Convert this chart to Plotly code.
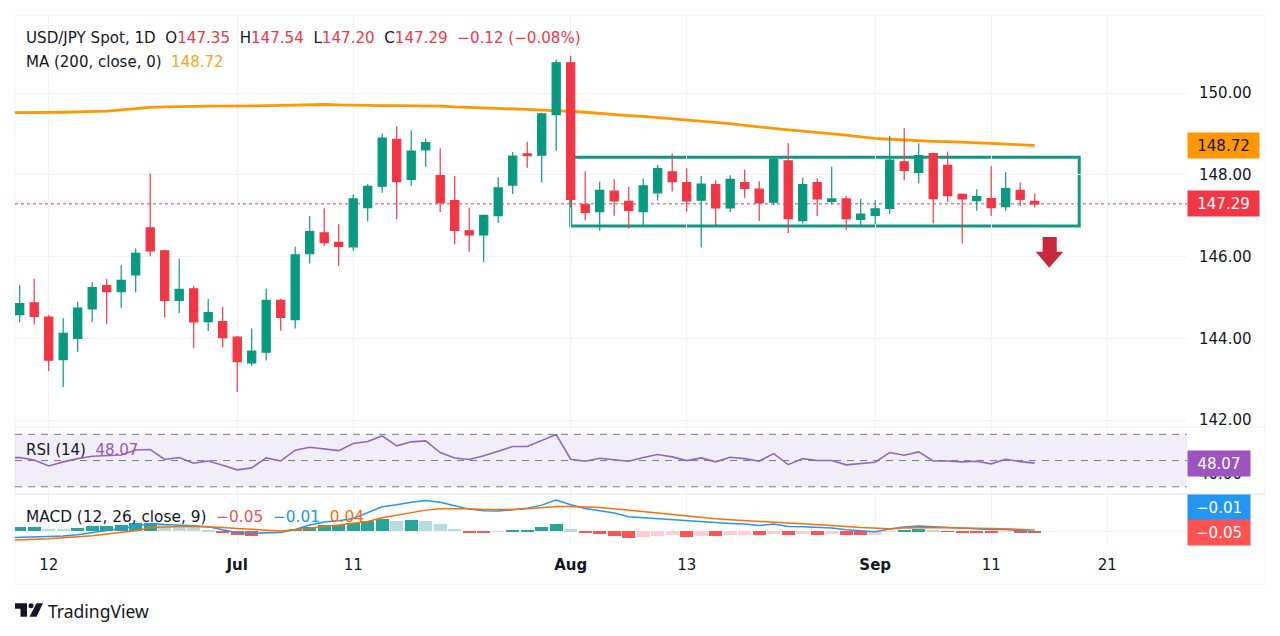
import plotly.graph_objects as go

W, H = 1280, 636
FONT = "DejaVu Sans"
YS = 1.0035

opens = [144.58,144.87,144.52,143.48,144.00,144.72,145.29,145.14,145.55,146.70,146.14,144.93,145.21,144.41,144.41,144.03,143.40,143.66,144.93,144.46,146.07,146.58,146.35,146.24,147.20,147.72,148.87,147.89,148.61,147.98,147.37,146.63,146.53,147.00,147.75,148.51,148.48,149.47,150.74,147.28,147.10,147.60,147.35,147.10,147.56,148.07,147.81,147.38,147.76,147.19,147.81,147.65,147.33,148.34,146.88,147.81,147.35,147.41,146.91,147.01,147.18,148.32,148.06,148.52,148.23,147.52,147.37,147.42,147.22,147.62,147.35]
highs = [145.30,145.46,144.57,144.49,144.89,145.37,145.45,145.79,146.20,148.03,146.17,145.95,145.28,144.96,144.77,144.06,144.24,145.22,144.97,146.24,146.99,147.18,146.79,147.52,147.77,149.01,149.19,149.09,148.88,148.65,147.97,147.20,147.03,147.94,148.56,148.81,149.52,150.82,150.91,148.09,147.83,147.89,147.71,147.91,148.24,148.52,148.16,147.97,147.87,147.99,148.13,147.84,148.44,148.77,147.93,147.91,148.20,147.49,147.41,147.38,148.95,149.14,148.77,148.54,148.57,147.54,147.65,148.21,148.07,147.81,147.54]
lows = [144.40,144.34,143.20,142.81,143.67,144.40,144.35,144.75,145.13,146.01,144.51,144.62,143.76,144.18,143.79,142.69,143.33,143.46,144.19,144.24,145.83,146.26,145.77,146.14,146.86,147.56,146.92,147.73,148.20,147.09,146.30,146.12,145.87,146.83,147.53,148.17,147.81,148.59,147.20,146.88,146.63,147.00,146.69,146.77,147.37,147.59,147.10,146.22,146.77,147.09,147.44,146.87,147.26,146.58,146.81,146.99,147.28,146.65,146.77,146.79,147.04,147.87,147.79,146.81,147.34,146.32,147.12,146.99,147.12,147.24,147.20]
closes = [144.85,144.54,143.47,144.12,144.74,145.24,145.14,145.42,146.08,146.14,144.93,145.20,144.40,144.63,144.02,143.43,143.69,144.93,144.51,146.04,146.61,146.34,146.25,147.41,147.72,148.90,147.83,148.58,148.79,147.32,146.64,146.53,147.01,147.68,148.46,148.47,149.49,150.74,147.40,147.08,147.62,147.36,147.13,147.73,148.15,147.83,147.36,147.77,147.19,147.89,147.67,147.32,148.38,146.93,147.76,147.41,147.41,146.93,147.04,147.17,148.36,148.11,148.47,147.42,147.49,147.41,147.47,147.20,147.66,147.40,147.29]

# first entry of the three lines below belongs to the bar before the window
ma200 = [149.52,149.52,149.52,149.52,149.53,149.54,149.55,149.56,149.59,149.62,149.65,149.66,149.67,149.68,149.68,149.68,149.68,149.68,149.69,149.70,149.71,149.72,149.72,149.71,149.70,149.70,149.69,149.69,149.69,149.68,149.68,149.66,149.65,149.64,149.63,149.61,149.60,149.58,149.57,149.55,149.53,149.50,149.47,149.45,149.43,149.40,149.38,149.35,149.32,149.28,149.25,149.21,149.17,149.13,149.10,149.07,149.04,149.00,148.97,148.93,148.89,148.87,148.85,148.83,148.82,148.81,148.80,148.78,148.77,148.75,148.74,148.72]
rsi14 = [52.0,52.3,50.5,45.9,49.0,51.5,53.3,53.8,54.3,58.1,58.4,50.8,52.3,48.0,49.7,46.4,42.9,44.4,52.0,49.7,57.9,60.2,58.7,57.6,63.0,64.5,68.8,61.2,64.3,65.0,56.1,52.0,50.8,53.6,57.1,60.7,60.7,65.0,69.9,51.0,49.5,51.8,50.5,49.5,52.3,54.6,52.8,50.0,52.0,49.0,52.5,51.5,49.5,55.3,46.9,51.5,50.0,50.0,46.7,47.5,48.7,56.1,54.1,56.6,49.7,49.7,49.0,49.5,47.5,51.0,49.2,48.07]
macd_line = [-0.19,-0.18,-0.18,-0.17,-0.14,-0.10,-0.03,0.03,0.08,0.17,0.24,0.21,0.20,0.17,0.14,0.06,-0.04,-0.06,-0.05,-0.03,0.06,0.19,0.28,0.32,0.39,0.56,0.74,0.80,0.88,0.93,0.88,0.77,0.67,0.62,0.61,0.65,0.70,0.79,0.94,0.80,0.69,0.62,0.55,0.44,0.41,0.39,0.35,0.31,0.29,0.25,0.24,0.22,0.18,0.22,0.15,0.14,0.12,0.10,0.05,0.01,-0.01,0.07,0.13,0.16,0.14,0.11,0.09,0.07,0.06,0.06,0.02,-0.01]
signal_line = [-0.27,-0.26,-0.24,-0.22,-0.19,-0.17,-0.13,-0.08,-0.04,0.02,0.12,0.14,0.15,0.15,0.14,0.12,0.09,0.06,0.04,0.01,0.05,0.11,0.15,0.19,0.25,0.30,0.41,0.49,0.58,0.64,0.68,0.69,0.68,0.66,0.65,0.66,0.68,0.72,0.75,0.75,0.74,0.72,0.68,0.63,0.59,0.55,0.51,0.46,0.42,0.38,0.35,0.32,0.30,0.28,0.25,0.23,0.21,0.19,0.15,0.12,0.09,0.08,0.10,0.12,0.12,0.11,0.11,0.10,0.09,0.08,0.07,0.04]
macd_hist = [0.13,0.14,0.08,0.07,0.10,0.15,0.16,0.20,0.25,0.26,0.18,0.15,0.12,0.05,-0.06,-0.12,-0.14,-0.04,-0.02,0.08,0.13,0.18,0.20,0.25,0.30,0.36,0.32,0.33,0.32,0.22,0.07,-0.04,-0.06,-0.02,0.03,0.05,0.12,0.21,0.06,-0.05,-0.09,-0.15,-0.19,-0.17,-0.13,-0.12,-0.16,-0.13,-0.15,-0.12,-0.11,-0.12,-0.09,-0.11,-0.09,-0.10,-0.07,-0.10,-0.12,-0.10,-0.02,0.04,0.06,0.02,-0.01,-0.03,-0.04,-0.06,-0.02,-0.04,-0.05]

tick_positions = [2, 15, 23, 38, 46, 59, 67, 75]
tick_labels = ["12", "<b>Jul</b>", "11", "<b>Aug</b>", "13", "<b>Sep</b>", "11", "21"]
price_ticks = [142, 144, 146, 148, 150]
box_high, box_low = 148.43, 146.75
box_start, box_end = 38, 73.07

UP, DOWN = "#089981", "#f23645"
ORANGE, PURPLE = "#ff9800", "#9c55c0"
BLUE, SIGNAL = "#2196f3", "#ff6d00"
GRID = "#f2f3f5"
TEXT = "#131722"

bars = list(range(len(closes)))
lead = [-1] + bars


def px(x):
    return x / W


def py(y):
    return 1 - y * YS / H


hist_colors = []
for i, h in enumerate(macd_hist):
    rising = i == 0 or h >= macd_hist[i - 1]
    if h >= 0:
        hist_colors.append("#26a69a" if rising else "#b2dfdb")
    else:
        hist_colors.append("#ffcdd2" if rising else "#ff5252")

fig = go.Figure()
fig.add_trace(go.Scatter(x=lead, y=ma200, mode="lines", xaxis="x", yaxis="y",
                         line=dict(color=ORANGE, width=2.8), hoverinfo="skip"))
fig.add_trace(go.Candlestick(x=bars, open=opens, high=highs, low=lows, close=closes,
                             xaxis="x", yaxis="y4", whiskerwidth=0,
                             increasing=dict(line=dict(color=UP, width=1.2), fillcolor=UP),
                             decreasing=dict(line=dict(color=DOWN, width=1.2), fillcolor=DOWN)))
fig.add_trace(go.Scatter(x=lead, y=rsi14, mode="lines", xaxis="x2", yaxis="y2",
                         line=dict(color="#9467bd", width=1.6), hoverinfo="skip"))
fig.add_trace(go.Bar(x=bars, y=macd_hist, xaxis="x3", yaxis="y3", marker=dict(color=hist_colors, line_width=0),
                     width=0.92, hoverinfo="skip"))
fig.add_trace(go.Scatter(x=lead, y=macd_line, mode="lines", xaxis="x3", yaxis="y3",
                         line=dict(color=BLUE, width=1.5), hoverinfo="skip"))
fig.add_trace(go.Scatter(x=lead, y=signal_line, mode="lines", xaxis="x3", yaxis="y3",
                         line=dict(color=SIGNAL, width=1.5), hoverinfo="skip"))

xrange_ = [(15 - 19.7) / 14.5, (1187 - 19.7) / 14.5]
xcommon = dict(range=xrange_, domain=[px(15), px(1187)], tickmode="array", tickvals=tick_positions,
               ticktext=tick_labels, showgrid=True, gridcolor=GRID, gridwidth=1, zeroline=False,
               showline=False, ticks="", rangeslider=dict(visible=False),
               tickfont=dict(family=FONT, size=15, color=TEXT))
ycommon = dict(side="right", showline=False, ticks="", zeroline=False, showgrid=True, gridcolor=GRID,
               tickfont=dict(family=FONT, size=15, color=TEXT), ticklabelstandoff=11)
main_range = [150 - (427 - 93) / 40.875, 150 + (93 - 15) / 40.875]

shapes = [
    # pane frame
    dict(type="rect", xref="paper", yref="paper", x0=px(15), x1=px(1265), y0=py(15), y1=py(584),
         line=dict(color="#f0f1f4", width=1), layer="below"),
    dict(type="line", xref="paper", yref="paper", x0=px(15), x1=px(1265), y0=py(427), y1=py(427),
         line=dict(color="#eceef2", width=1), layer="below"),
    dict(type="line", xref="paper", yref="paper", x0=px(15), x1=px(1265), y0=py(494), y1=py(494),
         line=dict(color="#dfe1e6", width=1), layer="below"),
    # last price
    dict(type="line", xref="x", yref="y", x0=xrange_[0], x1=xrange_[1], y0=closes[-1], y1=closes[-1],
         line=dict(color=DOWN, width=1, dash="dot"), layer="below"),
    # consolidation box
    dict(type="rect", xref="x", yref="y", x0=box_start, x1=box_end, y0=box_low, y1=box_high,
         line=dict(color="#0f9a80", width=3), layer="below"),
    # down arrow
    dict(type="path", xref="x", yref="y", fillcolor="#c9283c", line=dict(width=0),
         path="M70.55,146.48 L71.52,146.48 L71.52,146.12 L71.97,146.12 L71.0,145.73 L70.07,146.12 L70.55,146.12 Z"),
    # RSI band and levels
    dict(type="rect", xref="x2", yref="y2", x0=xrange_[0], x1=xrange_[1], y0=30, y1=70,
         fillcolor="rgba(126,87,194,0.1)", line=dict(width=0), layer="below"),
]
for level in (70, 50, 30):
    shapes.append(dict(type="line", xref="x2", yref="y2", x0=xrange_[0], x1=xrange_[1], y0=level, y1=level,
                       line=dict(color="#787b86", width=1, dash="7px,6px"), layer="above"))
# TradingView logo
shapes += [
    dict(type="path", xref="paper", yref="paper", fillcolor=TEXT, line=dict(width=0),
         path=f"M{px(15)},{py(603)} L{px(27)},{py(603)} L{px(27)},{py(616.5)} L{px(20.5)},{py(616.5)} "
              f"L{px(20.5)},{py(608.5)} L{px(15)},{py(608.5)} Z"),
    dict(type="circle", xref="paper", yref="paper", fillcolor=TEXT, line=dict(width=0),
         x0=px(28.5), x1=px(33.5), y0=py(608), y1=py(603)),
    dict(type="path", xref="paper", yref="paper", fillcolor=TEXT, line=dict(width=0),
         path=f"M{px(36.5)},{py(603)} L{px(43)},{py(603)} L{px(36.5)},{py(616.5)} L{px(29.5)},{py(616.5)} Z"),
]


def note(text, x, y, size=15, color=TEXT, family=FONT):
    return dict(text=text, xref="paper", yref="paper", x=px(x), y=py(y), xanchor="left", yanchor="middle",
                showarrow=False, font=dict(family=family, size=size, color=color))


def tag(text, y, yref, width, bg, color="#ffffff"):
    return dict(text=text, xref="paper", yref=yref, x=px(1187), y=y, xanchor="left", yanchor="middle",
                showarrow=False, width=width, height=21, bgcolor=bg, borderpad=2, align="center",
                font=dict(family=FONT, size=15, color=color))


def red(s):
    return f'<span style="color:{DOWN}">{s}</span>'


annotations = [
    note(f"USD/JPY Spot, 1D  O{red('147.35')}  H{red('147.54')}  L{red('147.20')}  C{red('147.29')}  {red('−0.12 (−0.08%)')}", 24, 38, size=15.1),
    note(f'MA (200, close, 0)  <span style="color:#f5a623">148.72</span>', 24, 62),
    note(f'RSI (14)  <span style="color:{PURPLE}">48.07</span>', 24, 450),
    note(f'MACD (12, 26, close, 9)  <span style="color:#ef5350">−0.05</span>  <span style="color:{BLUE}">−0.01</span>  <span style="color:{SIGNAL}">0.04</span>', 24, 517, size=15.35),
    note("TradingView", 46, 611, size=17.5, family="Noto Sans"),
    tag("148.72", ma200[-1], "y", 67, ORANGE, TEXT),
    tag("147.29", closes[-1], "y", 67, DOWN),
    tag("48.07", rsi14[-1], "y2", 58, PURPLE),
    tag("−0.01", py(507.5), "paper", 58, BLUE),
    tag("−0.05", py(532), "paper", 58, "#ff5252"),
]

fig.update_layout(
    width=W, height=H, margin=dict(l=0, r=0, t=0, b=0), paper_bgcolor="#ffffff", plot_bgcolor="#ffffff",
    showlegend=False, boxgap=0.2, bargap=0,
    xaxis=dict(xcommon, anchor="y", showticklabels=False),
    xaxis2=dict(xcommon, anchor="y2", showticklabels=False),
    xaxis3=dict(xcommon, anchor="y3", showticklabels=True, ticklabelstandoff=10),
    yaxis=dict(ycommon, domain=[py(427), py(15)], range=main_range, anchor="x", tickvals=price_ticks,
               ticktext=[f"{v:.2f}" for v in price_ticks]),
    yaxis4=dict(overlaying="y", range=main_range, anchor="x", side="right", visible=False),
    yaxis2=dict(ycommon, domain=[py(494), py(427)], range=[24.35, 75.5], anchor="x2", tickvals=[40],
                ticktext=["40.00"]),
    yaxis3=dict(ycommon, domain=[py(544), py(494)], range=[-0.385, 1.12], anchor="x3", tickvals=[0],
                showticklabels=False),
    shapes=shapes, annotations=annotations,
)

fig.write_html("out.html", config=dict(displayModeBar=False), post_script="document.body.style.margin='0';")
